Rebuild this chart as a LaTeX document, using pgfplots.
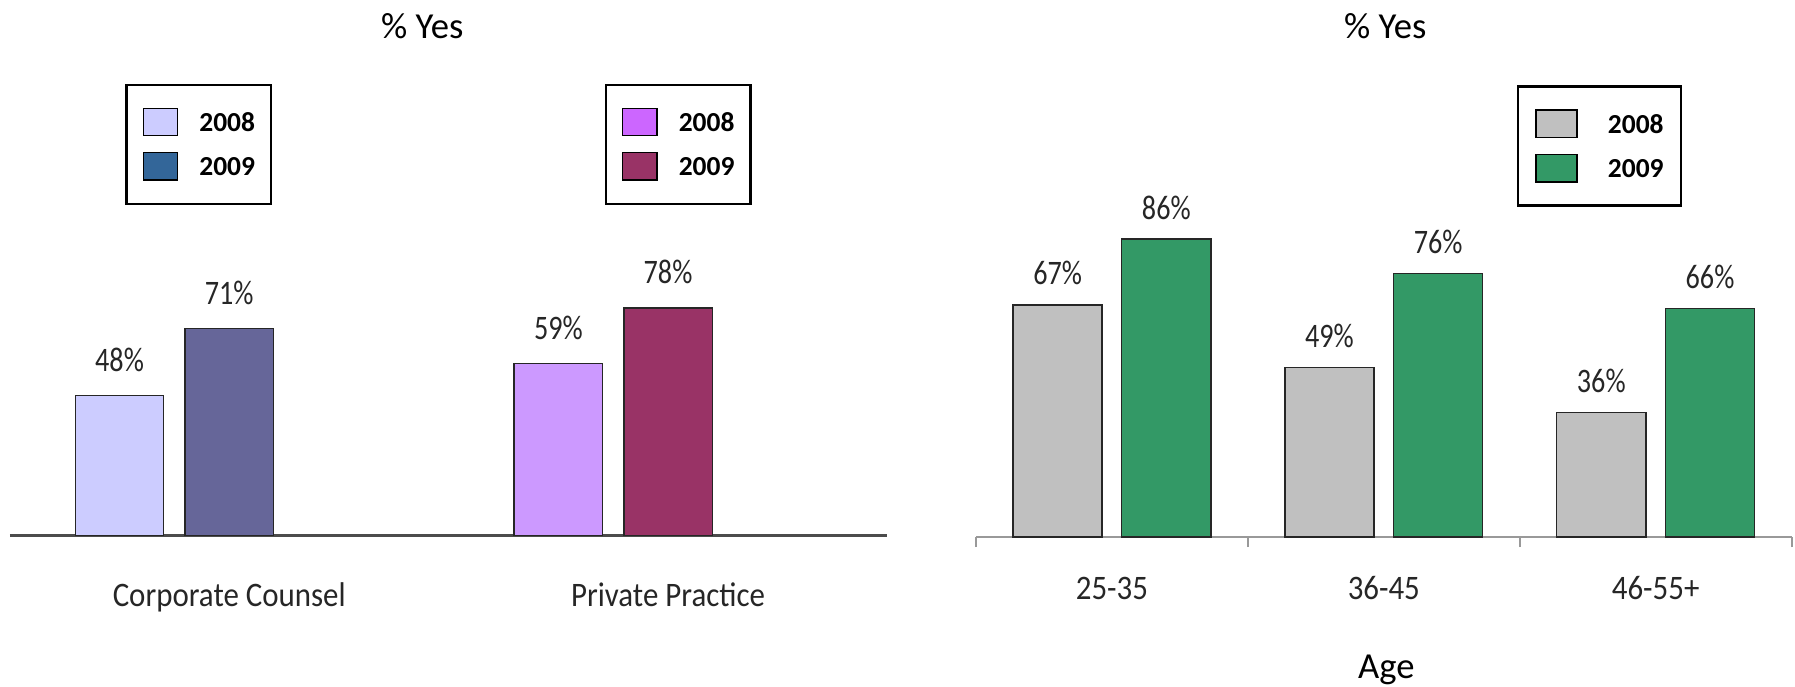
\documentclass[border=0pt]{standalone}
\usepackage{fontspec}
\setmainfont{Carlito}
\newfontfamily\lblfont[FakeStretch=0.82]{Carlito}
\newfontfamily\tickfont[FakeStretch=0.9]{Carlito}
\usepackage{pgfplots}
\pgfplotsset{compat=1.18}

\definecolor{ccA}{HTML}{CCCCFF}
\definecolor{ccB}{HTML}{666699}
\definecolor{ccBl}{HTML}{336699}
\definecolor{ppA}{HTML}{CC99FF}
\definecolor{ppAl}{HTML}{CC66FF}
\definecolor{ppB}{HTML}{993366}
\definecolor{agA}{HTML}{C0C0C0}
\definecolor{agB}{HTML}{339966}

\pgfplotsset{
  bars/.style={ybar, bar shift=0pt, draw=black!85, line width=0.6pt,
    nodes near coords={\pgfmathprintnumber[assume math mode=true]{\pgfplotspointmeta}\%},
    every node near coord/.append style={font=\lblfont\fontsize{15}{15}\selectfont,
      text=black!85, inner sep=0pt, anchor=center, yshift=#1}},
  base/.style={scale only axis, anchor=south west, ymin=0, ymax=100,
    axis y line=none, axis x line=bottom, clip=false,
    major tick length=0pt,
    xticklabel style={font=\tickfont\fontsize{15}{15}\selectfont, anchor=base, inner sep=0pt, text=black!85},
    legend cell align=left},
  boxleg/.style={legend style={draw=black, line width=1pt, inner ysep=10pt,
    outer sep=0pt, row sep=6.75pt, anchor=north west,
    font=\bfseries\fontsize{12}{14}\selectfont,
    nodes={inner sep=0pt, text depth=0pt}}},
  sq/.style={legend image code/.code={
    \draw[##1, line width=0.6pt] (0pt,-6pt) rectangle (15pt,6pt);
    \path (24pt,0pt);}},
  wide/.style={legend image code/.code={
    \draw[##1, line width=0.6pt] (0pt,-6pt) rectangle (18pt,6pt);
    \path (31pt,0pt);}}
}

\begin{document}
\begin{tikzpicture}
\useasboundingbox (0,0) rectangle (784pt,300pt);

% left chart, corporate counsel
\begin{axis}[base, at={(4.3pt,66pt)}, width=383.3pt, height=127.5pt,
  xmin=-0.5, xmax=1.5, xtick={0,1},
  xticklabels={Corporate Counsel,Private Practice},
  axis line style={-, draw=black!70, line width=1.2pt},
  xticklabel style={yshift=-30.75pt},
  title={\% Yes},
  every axis title/.style={at={(axis description cs:0.470,1.705)}, anchor=base,
    font=\fontsize{16}{16}\selectfont},
  sq, boxleg,
  legend style={inner xsep=7pt, at={(axis description cs:0.1330,1.545)}}]
\addplot[bars=15.75pt, fill=ccA, bar width=0.2014, forget plot] coordinates {(-0.25,48)};
\addplot[bars=15.75pt, fill=ccB, bar width=0.2014, forget plot] coordinates {(0,71)};
\addlegendimage{draw=black, fill=ccA}
\addlegendentry{2008\hspace{5pt}}
\addlegendimage{draw=black, fill=ccBl}
\addlegendentry{2009\hspace{5pt}}
\end{axis}

% left chart, private practice (same frame)
\begin{axis}[base, at={(4.3pt,66pt)}, width=383.3pt, height=127.5pt,
  xmin=-0.5, xmax=1.5, hide axis,
  sq, boxleg,
  legend style={inner xsep=7pt, at={(axis description cs:0.6793,1.545)}}]
\addplot[bars=15.75pt, fill=ppA, bar width=0.2014, forget plot] coordinates {(0.75,59)};
\addplot[bars=15.75pt, fill=ppB, bar width=0.2014, forget plot] coordinates {(1,78)};
\addlegendimage{draw=black, fill=ppAl}
\addlegendentry{2008\hspace{5pt}}
\addlegendimage{draw=black, fill=ppB}
\addlegendentry{2009\hspace{5pt}}
\end{axis}

% right chart, age groups
\begin{axis}[base, at={(426.3pt,65.45pt)}, width=356.2pt, height=151.35pt,
  xmin=-0.5, xmax=2.5, xtick={0,1,2},
  xticklabels={25-35,36-45,46-55+},
  minor xtick={-0.5,0.5,1.5,2.5}, minor tick length=4.4pt, tick align=outside,
  minor tick style={draw=black!40, line width=0.8pt},
  axis line style={-, draw=black!40, line width=0.8pt},
  xticklabel style={yshift=-27.5pt},
  xlabel={Age},
  every axis x label/.style={at={(axis description cs:0.503,-0.407)}, anchor=base,
    font=\fontsize{16}{16}\selectfont},
  title={\% Yes},
  every axis title/.style={at={(axis description cs:0.5017,1.440)}, anchor=base,
    font=\fontsize{16}{16}\selectfont},
  wide, boxleg,
  legend style={inner xsep=7.5pt, at={(axis description cs:0.6645,1.300)}}]
\addplot[bars=13.75pt, fill=agA, bar width=0.3276, forget plot]
  coordinates {(-0.2,67) (0.8,49) (1.8,36)};
\addplot[bars=13.75pt, fill=agB, bar width=0.3276, forget plot]
  coordinates {(0.2,86) (1.2,76) (2.2,66)};
\addlegendimage{draw=black, fill=agA}
\addlegendentry{2008\hspace{3pt}}
\addlegendimage{draw=black, fill=agB}
\addlegendentry{2009\hspace{3pt}}
\end{axis}
\end{tikzpicture}
\end{document}
